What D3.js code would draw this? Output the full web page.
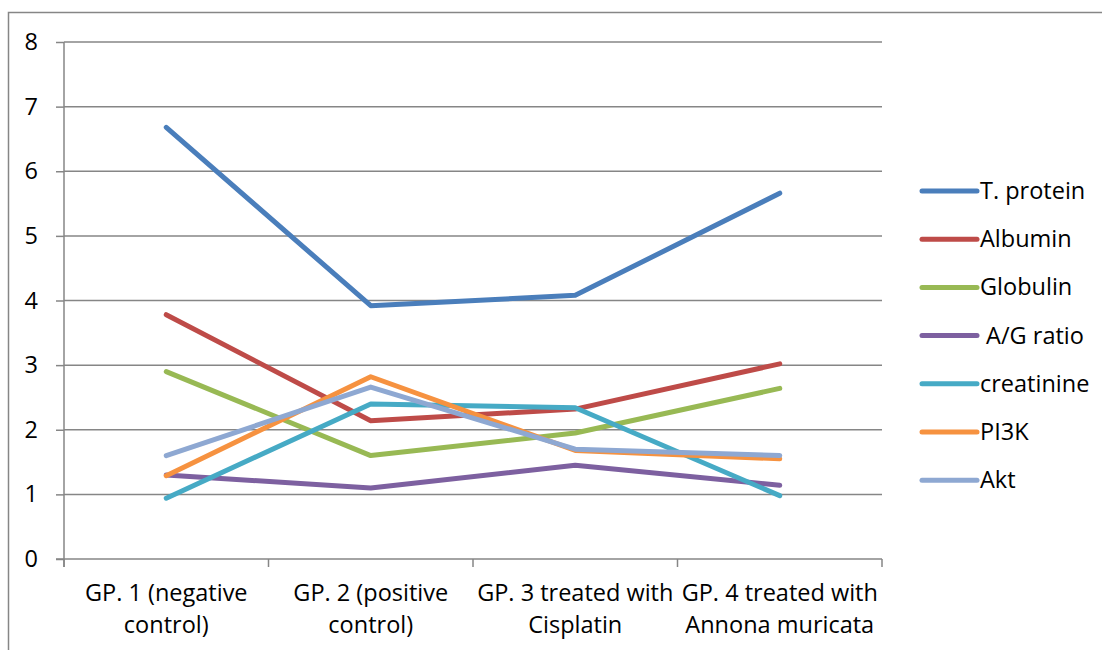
<!DOCTYPE html>
<html>
<head>
<meta charset="utf-8">
<script src="https://cdn.jsdelivr.net/npm/d3@7"></script>
<style>
  html, body { margin: 0; padding: 0; background: #fff; }
  svg { display: block; font-family: "Open Sans", sans-serif; }
</style>
</head>
<body>
<svg id="chart" width="1102" height="650"></svg>
<script>
const categories = [
  ["GP. 1 (negative", "control)"],
  ["GP. 2 (positive", "control)"],
  ["GP. 3 treated with", "Cisplatin"],
  ["GP. 4 treated with", "Annona muricata"]
];
const seriesNames = ["T. protein", "Albumin", "Globulin", " A/G ratio", "creatinine", "PI3K", "Akt"];
const tProtein   = [6.68, 3.92, 4.08, 5.66];
const albumin    = [3.78, 2.14, 2.32, 3.02];
const globulin   = [2.90, 1.60, 1.95, 2.64];
const agRatio    = [1.30, 1.10, 1.45, 1.14];
const creatinine = [0.94, 2.40, 2.34, 0.98];
const pi3k       = [1.29, 2.82, 1.68, 1.55];
const akt        = [1.60, 2.66, 1.70, 1.60];
const yTicks = [0, 1, 2, 3, 4, 5, 6, 7, 8];
const colors = ["#4A7EBB", "#BE4B48", "#98B954", "#7D60A0", "#46AAC5", "#F69240", "#8EA8D2"];

const seriesValues = [tProtein, albumin, globulin, agRatio, creatinine, pi3k, akt];
const FS = 23.5;

const svg = d3.select("#chart");

// outer chart border
svg.append("path")
  .attr("d", "M8.5,650 V12.5 H1102")
  .attr("fill", "none").attr("stroke", "#868686").attr("stroke-width", 1.5);

const plot = { left: 64, right: 882, top: 42, bottom: 559 };

const x = d3.scaleBand().domain(d3.range(categories.length)).range([plot.left, plot.right]);
const y = d3.scaleLinear().domain([0, 8]).range([plot.bottom, plot.top]);

// gridlines
svg.append("g").selectAll("line").data(yTicks.filter(d => d > 0)).join("line")
  .attr("x1", plot.left).attr("x2", plot.right)
  .attr("y1", d => y(d)).attr("y2", d => y(d))
  .attr("stroke", "#868686").attr("stroke-width", 1.5);

// y axis
const yAxis = d3.axisLeft(y).tickValues(yTicks).tickSize(8).tickPadding(18).tickFormat(d3.format("d"));
const gy = svg.append("g").attr("transform", `translate(${plot.left},0)`).call(yAxis);
gy.select(".domain").attr("stroke", "#868686").attr("stroke-width", 1.5).attr("d", `M0,${plot.top}V${plot.bottom + 8}`);
gy.selectAll(".tick line").attr("stroke", "#868686").attr("stroke-width", 1.5);
gy.selectAll(".tick text").attr("font-size", FS).attr("fill", "#000").attr("font-family", "Open Sans");

// x axis
const gx = svg.append("g").attr("transform", `translate(0,${plot.bottom})`);
gx.append("line").attr("x1", plot.left - 8).attr("x2", plot.right)
  .attr("stroke", "#868686").attr("stroke-width", 1.5);
const boundaries = d3.range(categories.length + 1).map(i => plot.left + i * x.bandwidth());
gx.selectAll(".xt").data(boundaries).join("line").attr("class", "xt")
  .attr("x1", d => d).attr("x2", d => d).attr("y1", 0).attr("y2", 8)
  .attr("stroke", "#868686").attr("stroke-width", 1.5);
const labels = gx.selectAll(".xl").data(categories).join("text").attr("class", "xl")
  .attr("text-anchor", "middle").attr("font-size", FS).attr("fill", "#000")
  .attr("transform", (d, i) => `translate(${x(i) + x.bandwidth() / 2},0)`);
labels.selectAll("tspan").data(d => d).join("tspan")
  .attr("x", 0).attr("y", (d, j) => 42 + j * 32).text(d => d);

// lines
const line = d3.line().x((d, i) => x(i) + x.bandwidth() / 2).y(d => y(d));
svg.append("g").selectAll("path").data(seriesValues).join("path")
  .attr("d", d => line(d))
  .attr("fill", "none")
  .attr("stroke", (d, i) => colors[i])
  .attr("stroke-width", 5)
  .attr("stroke-linecap", "round")
  .attr("stroke-linejoin", "round");

// legend
const legend = svg.append("g").attr("transform", "translate(922,191)");
const items = legend.selectAll("g").data(seriesNames).join("g")
  .attr("transform", (d, i) => `translate(0,${i * 48.2})`);
items.append("line").attr("x1", 0).attr("x2", 55)
  .attr("stroke", (d, i) => colors[i]).attr("stroke-width", 5).attr("stroke-linecap", "round");
items.append("text").attr("x", 58).attr("y", 8).attr("font-size", FS).attr("fill", "#000")
  .attr("xml:space", "preserve").style("white-space", "pre").text(d => d);
</script>
</body>
</html>
